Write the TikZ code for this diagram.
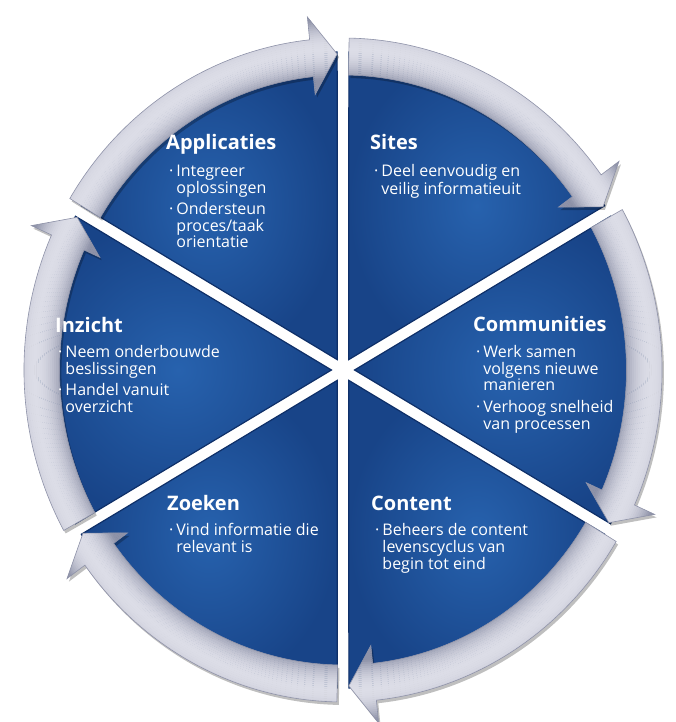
\documentclass[tikz,border=0pt]{standalone}
\usepackage{fontspec}
\setmainfont{Open Sans}
\definecolor{blueL}{HTML}{2762AE}
\definecolor{blueD}{HTML}{184488}
\definecolor{blueE}{HTML}{0E2F68}
\definecolor{rgD}{HTML}{8E92A8}
\definecolor{rgW}{HTML}{DCDDE7}
\tikzset{
  segment/.style={insert path={(\sa:332) arc[start angle=\sa, end angle=\ab, radius=332] -- (\ab:355) -- (\tp:316) -- (\ab:277) -- (\ab:295) arc[start angle=\ab, end angle=\sa, radius=295] -- cycle}},
  slice/.style={inner color=blueL, outer color=blueD, draw=blueE, line width=1.2},
  ttl/.style={anchor=base west, inner sep=0, text=white, font=\fontsize{20}{22}\selectfont\bfseries},
  lst/.style={anchor=base west, inner sep=0, text=white, font=\fontsize{16}{16.4}\selectfont},
}
\newcommand\blist[1]{\begin{tabular}[t]{@{}l@{\hspace{3pt}}l@{}}#1\end{tabular}}
\begin{document}
\begin{tikzpicture}[x=1pt,y=1pt]
\useasboundingbox (0,0) rectangle (675,-722);
\begin{scope}[shift={(343,-370)}, xscale=0.961]
  \foreach \a in {150,90,30,-30,-90,-150} {
    \pgfmathsetmacro\sb{\a-1.1}
    \pgfmathsetmacro\eb{\a-58.9}
    \pgfmathsetmacro\ap{\a-30}
    \shade[slice] (\ap:12) -- (\sb:318) arc[start angle=\sb, end angle=\eb, radius=318] -- cycle;
  }
  \foreach \a in {150,90,30,-30,-90,-150} {
    \pgfmathsetmacro\sa{\a-1.1}
    \pgfmathsetmacro\ab{\a-54.0}
    \pgfmathsetmacro\tp{\a-58.9}
    \fill[black, opacity=0.25] [shift={(2,-3)}] [segment];
    \begin{scope}
      \clip [segment];
      \foreach \r in {276,278,...,356} {
        \pgfmathsetmacro\p{max(0,min(100,100*(1-((\r-321)/30)^2)))}
        \draw[line width=2.3, color=rgW!\p!rgD] (0,0) circle (\r);
      }
    \end{scope}
    \draw[rgD, line width=0.6] [segment];
  }
\end{scope}
% Applicaties
\node[ttl] (t1) at (166,-150) {Applicaties};
\node[lst] (l1) at (169,-176) {\blist{·&Integreer\\&oplossingen\\[4pt]·&Ondersteun\\&proces/taak\\&orientatie}};
% Sites
\node[ttl] (t2) at (370,-150) {Sites};
\node[lst] (l2) at (374,-177) {\blist{·&Deel eenvoudig en\\&veilig informatieuit}};
% Communities
\node[ttl] (t3) at (473,-331) {Communities};
\node[lst] (l3) at (476,-357) {\blist{·&Werk samen\\&volgens nieuwe\\&manieren\\[5pt]·&Verhoog snelheid\\&van processen}};
% Inzicht
\node[ttl] (t4) at (55,-332) {Inzicht};
\node[lst] (l4) at (58,-357) {\blist{·&Neem onderbouwde\\&beslissingen\\[4pt]·&Handel vanuit\\&overzicht}};
% Zoeken
\node[ttl] (t5) at (167,-510) {Zoeken};
\node[lst] (l5) at (169,-535) {\blist{·&Vind informatie die\\&relevant is}};
% Content
\node[ttl] (t6) at (371,-510) {Content};
\node[lst] (l6) at (375,-535) {\blist{·&Beheers de content\\&levenscyclus van\\&begin tot eind}};
\end{tikzpicture}
\end{document}
